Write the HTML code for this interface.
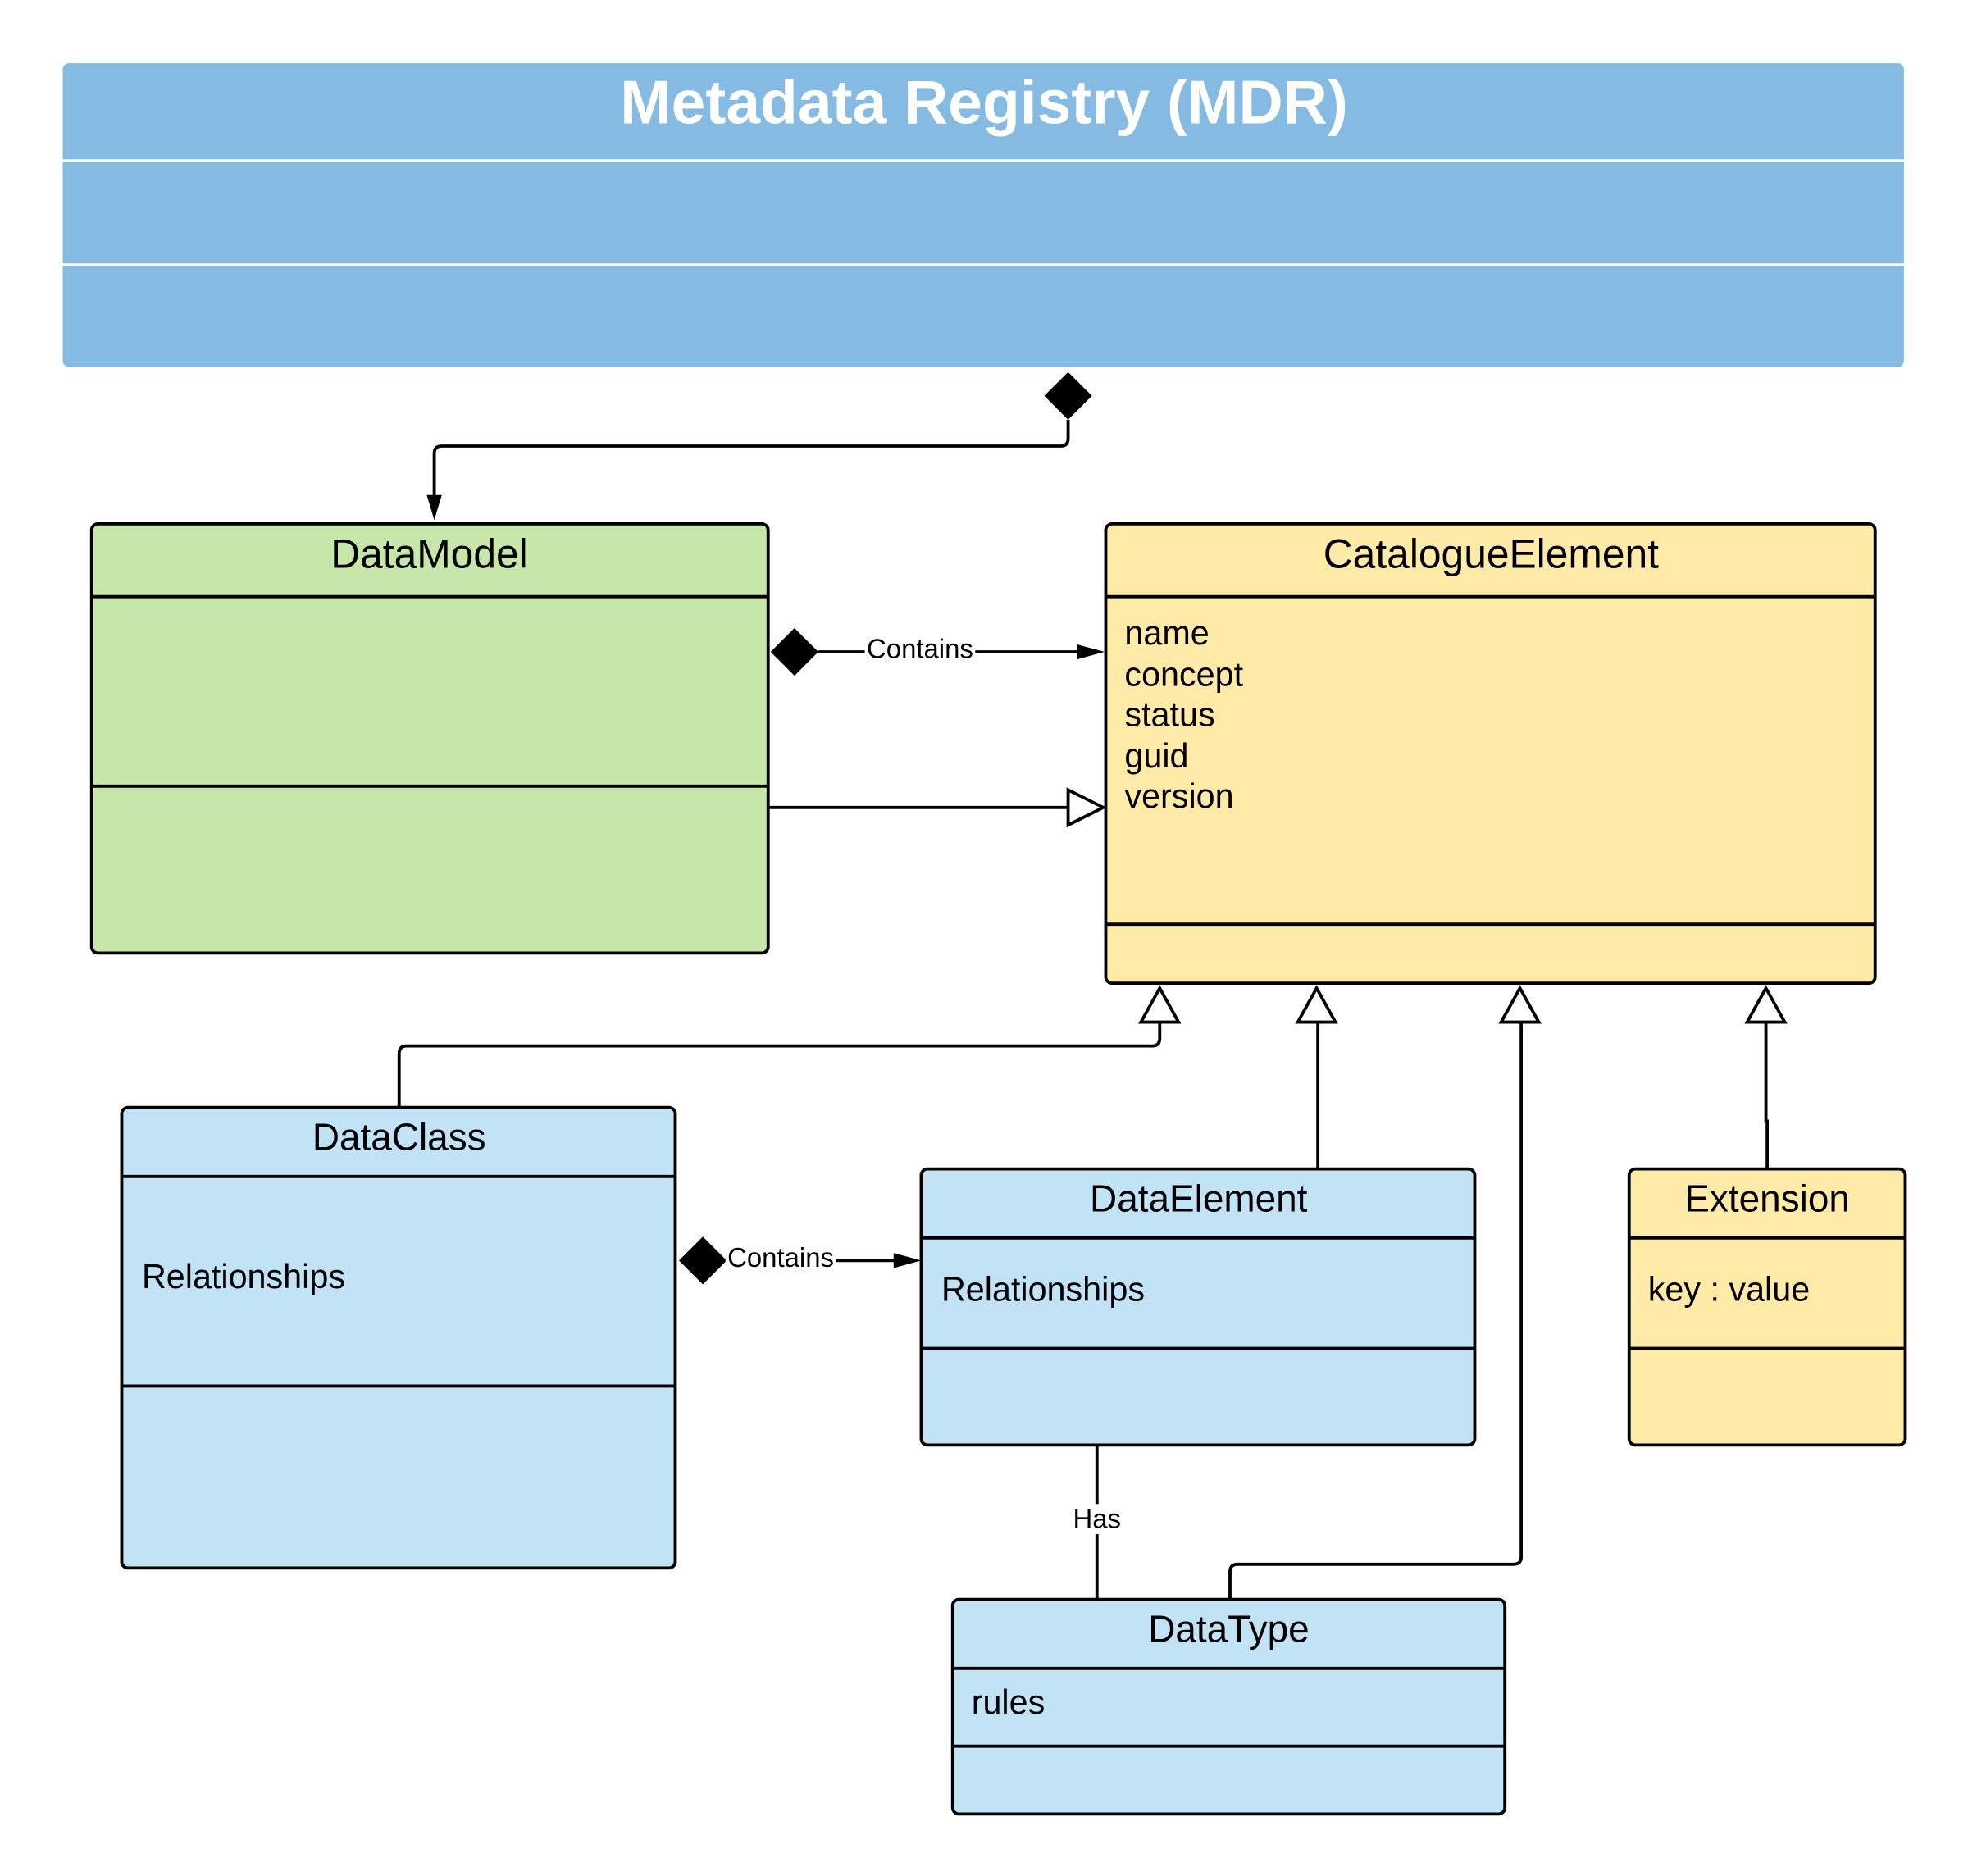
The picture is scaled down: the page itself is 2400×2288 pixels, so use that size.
<!DOCTYPE html>
<html><head><meta charset="utf-8">
<style>
html,body{margin:0;padding:0;background:#fff;}
svg{display:block;}
text{font-family:"Liberation Sans",Arial,sans-serif;}
</style></head>
<body>
<svg width="2400" height="2288" viewBox="0 0 1568 1494" xmlns="http://www.w3.org/2000/svg">
<rect width="1568" height="1494" fill="#fff"/>
<rect x="50" y="50" width="1467" height="242" rx="5" fill="#85bae3"/>
<line x1="50" y1="127.5" x2="1517" y2="127.5" stroke="#fff" stroke-width="2"/>
<line x1="50" y1="210.5" x2="1517" y2="210.5" stroke="#fff" stroke-width="2"/>
<text x="784" y="98" text-anchor="middle" font-size="49" font-weight="bold" fill="#fff">Metadata Registry (MDR)</text>

<g stroke="#000" stroke-width="2.5" fill="none">
<path d="M851 334 V349 Q851 355 845 355 H352 Q346 355 346 361 V404"/>
<line x1="652" y1="519" x2="862" y2="519"/>
<line x1="612" y1="643" x2="851" y2="643"/>
<path d="M318 882 V839 Q318 833 324 833 H918 Q924 833 924 827 V814"/>
<line x1="1050" y1="931" x2="1050" y2="814"/>
<path d="M1408 931 V893 H1407 V814"/>
<path d="M980 1274 V1252 Q980 1246 986 1246 H1206 Q1212 1246 1212 1240 V814"/>
<line x1="874" y1="1151" x2="874" y2="1274"/>
<line x1="579" y1="1004" x2="716" y2="1004"/>
</g>
<polygon points="851,296 870,315 851,334 832,315" fill="#000"/>
<polygon points="633,500 652,519 633,538 614,519" fill="#000"/>
<polygon points="560,985 579,1004 560,1023 541,1004" fill="#000"/>
<polygon points="346,414 340,394 352,394" fill="#000"/>
<polygon points="880,519 858,513 858,525" fill="#000"/>
<polygon points="734,1004 712,998 712,1010" fill="#000"/>
<g fill="#fff" stroke="#000" stroke-width="2.5">
<polygon points="879,643 851,629 851,657"/>
<polygon points="924,787 909,814 939,814"/>
<polygon points="1049,787 1034,814 1064,814"/>
<polygon points="1211,787 1196,814 1226,814"/>
<polygon points="1407,787 1392,814 1422,814"/>
</g>
<rect x="689" y="505" width="88" height="22" fill="#fff"/>
<text x="733" y="524" text-anchor="middle" font-size="21.5">Contains</text>
<rect x="578" y="990" width="88" height="22" fill="#fff"/>
<text x="622" y="1009" text-anchor="middle" font-size="21.5">Contains</text>
<rect x="852" y="1198" width="44" height="24" fill="#fff"/>
<text x="874" y="1217" text-anchor="middle" font-size="21.5">Has</text>

<g stroke="#000" stroke-width="2.5">
<rect x="73" y="417" width="539" height="342" rx="5" fill="#c7e7aa"/>
<line x1="73" y1="475" x2="612" y2="475"/>
<line x1="73" y1="626" x2="612" y2="626"/>
<rect x="881" y="417" width="613" height="366" rx="5" fill="#ffeaa7"/>
<line x1="881" y1="475" x2="1494" y2="475"/>
<line x1="881" y1="736" x2="1494" y2="736"/>
<rect x="97" y="882" width="441" height="367" rx="5" fill="#c2e3f5"/>
<line x1="97" y1="937" x2="538" y2="937"/>
<line x1="97" y1="1104" x2="538" y2="1104"/>
<rect x="734" y="931" width="441" height="220" rx="5" fill="#c2e3f5"/>
<line x1="734" y1="986" x2="1175" y2="986"/>
<line x1="734" y1="1074" x2="1175" y2="1074"/>
<rect x="1298" y="931" width="220" height="220" rx="5" fill="#ffeaa7"/>
<line x1="1298" y1="986" x2="1518" y2="986"/>
<line x1="1298" y1="1074" x2="1518" y2="1074"/>
<rect x="759" y="1274" width="440" height="171" rx="5" fill="#c2e3f5"/>
<line x1="759" y1="1329" x2="1199" y2="1329"/>
<line x1="759" y1="1391" x2="1199" y2="1391"/>
</g>
<g font-size="32.5" text-anchor="middle" fill="#000">
<text x="342" y="452">DataModel</text>
<text x="1188" y="452">CatalogueElement</text>
</g>
<g font-size="30" text-anchor="middle" fill="#000">
<text x="318" y="916">DataClass</text>
<text x="955" y="965">DataElement</text>
<text x="1408" y="965">Extension</text>
<text x="979" y="1308">DataType</text>
</g>
<g font-size="27" fill="#000">
<text x="896" y="513">name</text>
<text x="896" y="546">concept</text>
<text x="896" y="578">status</text>
<text x="896" y="611">guid</text>
<text x="896" y="643">version</text>
<text x="113" y="1026">Relationships</text>
<text x="750" y="1036">Relationships</text>
<text x="1313" y="1036">key : value</text>
<text x="774" y="1365">rules</text>
</g>
</svg>
</body></html>
